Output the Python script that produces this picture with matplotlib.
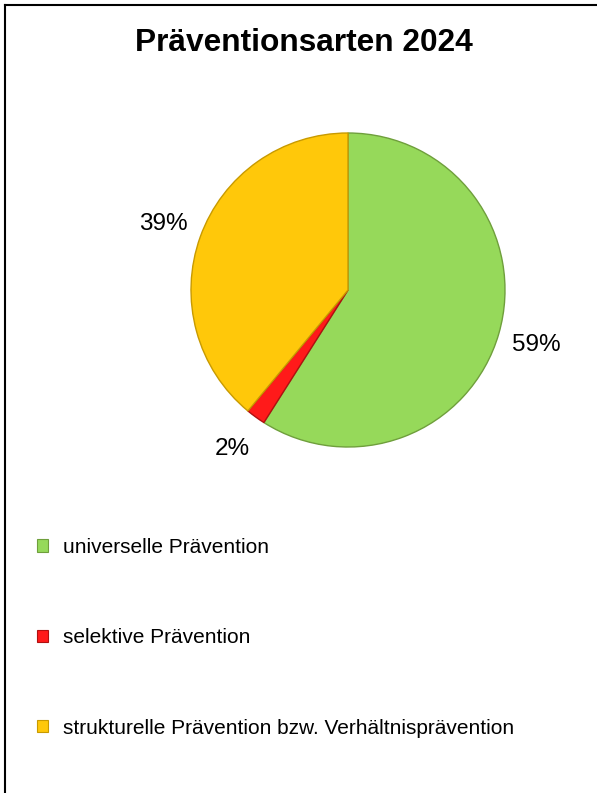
import matplotlib
matplotlib.use("Agg")
import matplotlib.pyplot as plt
from matplotlib.lines import Line2D

plt.rcParams['font.family'] = ['Liberation Sans', 'DejaVu Sans']

# Daten
categories = ["universelle Prävention",
              "selektive Prävention",
              "strukturelle Prävention bzw. Verhältnisprävention"]
shares = [59, 2, 39]
colors = ["#96d95a", "#ff1a1a", "#ffc80a"]
edges = ["#6f9f3c", "#b01010", "#c89a00"]

W, H = 597, 793
fig = plt.figure(figsize=(W / 100, H / 100), dpi=100)

# Rahmen oben und links
fig.add_artist(Line2D([5 / W, 596 / W], [1 - 5 / H, 1 - 5 / H], color="black", lw=1.5))
fig.add_artist(Line2D([5 / W, 5 / W], [1 - 5 / H, 0], color="black", lw=1.5))

fig.text(304 / W, 1 - 43 / H, "Präventionsarten 2024", ha="center", va="center",
         fontsize=22.8, fontweight="bold")

# Kreisdiagramm
cx, cy, r = 348, 290, 157
ax = fig.add_axes([(cx - r) / W, 1 - (cy + r) / H, 2 * r / W, 2 * r / H])
labels = [f"{v}%" for v in shares]
wedges, texts = ax.pie(shares, colors=colors, startangle=90, counterclock=False,
                       labels=labels, labeldistance=1.25,
                       wedgeprops=dict(linewidth=1.0),
                       textprops=dict(fontsize=17.5, ha="center", va="center"))
for w, ec in zip(wedges, edges):
    w.set_edgecolor(ec)
ax.set_xlim(-1, 1)
ax.set_ylim(-1, 1)
ax.axis("off")

# Legende
handles = [plt.Rectangle((0, 0), 1, 1, facecolor=c, edgecolor=e, lw=0.8)
           for c, e in zip(colors, edges)]
fig.legend(handles, categories, loc="upper left",
           bbox_to_anchor=(37 / W, 1 - 538 / H), frameon=False,
           fontsize=15, handlelength=0.55, handleheight=0.55,
           handletextpad=0.72, labelspacing=3.42, borderaxespad=0, borderpad=0)

fig.savefig("out.png", dpi=100)
